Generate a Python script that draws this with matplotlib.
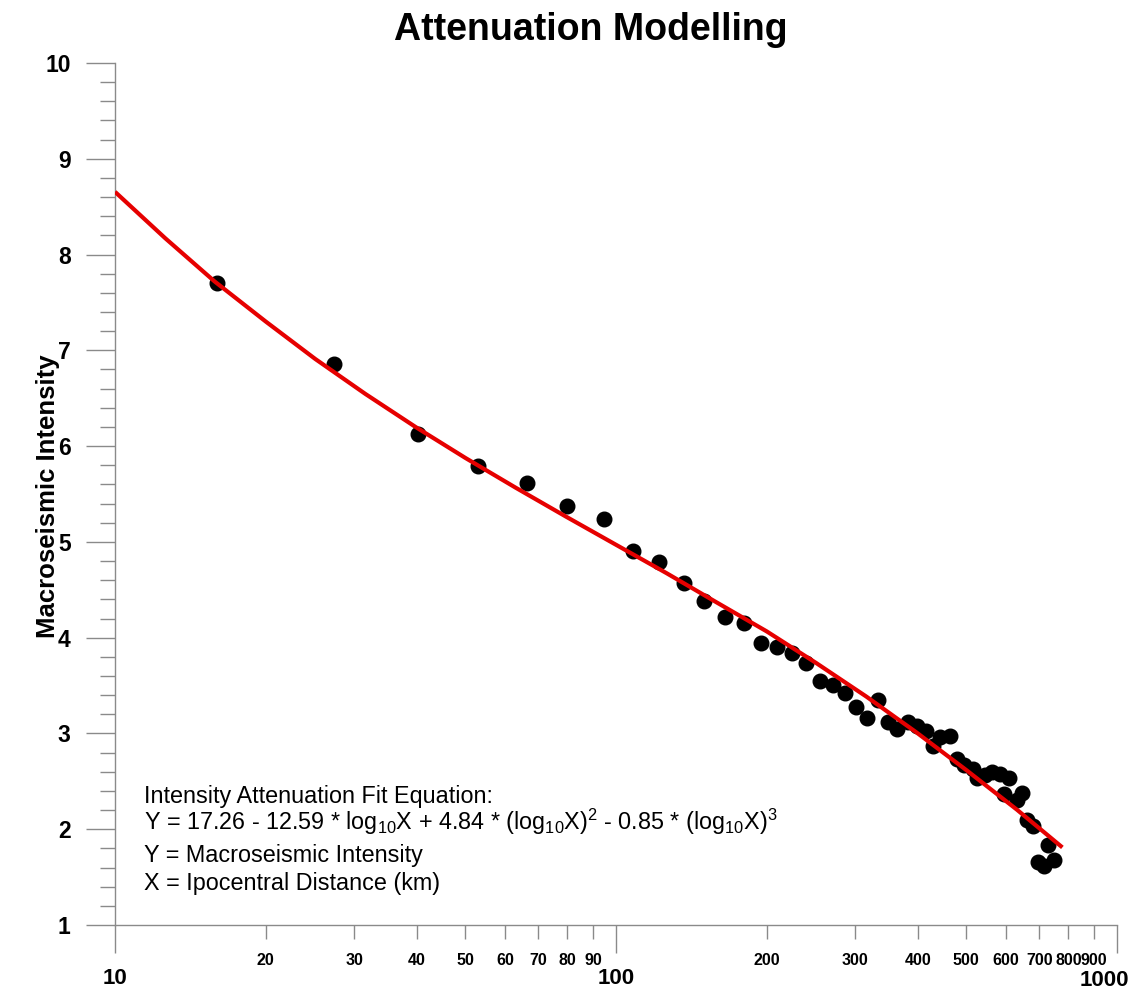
import numpy as np
import matplotlib.pyplot as plt
from matplotlib.ticker import FixedLocator, NullFormatter

plt.rcParams['font.family'] = ['Liberation Sans', 'DejaVu Sans']
plt.rcParams['mathtext.fontset'] = 'custom'
plt.rcParams['mathtext.rm'] = 'Liberation Sans'
plt.rcParams['mathtext.it'] = 'Liberation Sans'
plt.rcParams['mathtext.bf'] = 'Liberation Sans:bold'

# observed intensity vs hypocentral distance (km)
dist = [16.0, 27.4, 40.3, 53.0, 66.3, 79.9, 94.6, 108.3, 122.1, 136.5, 150, 165,
        180, 194.7, 210, 225, 239.5, 255, 271.5, 286.4, 301, 317, 334, 348.5,
        364, 383, 399.5, 415.7, 430, 443, 464, 478.6, 495, 516, 525, 545, 562,
        584, 595, 610, 631, 646, 662, 681, 697, 715, 728, 749]
intens = [7.70, 6.86, 6.13, 5.79, 5.62, 5.37, 5.235, 4.90, 4.785, 4.57, 4.38, 4.22,
          4.15, 3.94, 3.905, 3.836, 3.74, 3.547, 3.505, 3.42, 3.28, 3.164, 3.35, 3.12,
          3.046, 3.116, 3.077, 3.025, 2.87, 2.96, 2.97, 2.73, 2.67, 2.63, 2.54, 2.566, 2.60,
          2.576, 2.367, 2.53, 2.30, 2.375, 2.10, 2.03, 1.66, 1.616, 1.835, 1.68]

# red fit curve
fit_x = [10, 12.6, 15.8, 20, 25.1, 31.6, 39.8, 50.1, 63.1, 79.4, 100, 126, 158,
         200, 251, 316, 398, 501, 631, 778]
fit_y = [8.655, 8.17, 7.72, 7.30, 6.91, 6.545, 6.20, 5.875, 5.565, 5.265, 4.97, 4.675,
         4.375, 4.065, 3.735, 3.385, 3.01, 2.615, 2.205, 1.81]

major_x = [10, 100, 1000]
minor_x = [20, 30, 40, 50, 60, 70, 80, 90, 200, 300, 400, 500, 600, 700, 800, 900]
y_ticks = [1, 2, 3, 4, 5, 6, 7, 8, 9, 10]

eq_lines = ['Intensity Attenuation Fit Equation:',
            'Y = 17.26 - 12.59 * log$_{10}$X + 4.84 * (log$_{10}$X)$^{2}$ - 0.85 * (log$_{10}$X)$^{3}$',
            'Y = Macroseismic Intensity',
            'X = Ipocentral Distance (km)']

W, H = 1148, 992
fig = plt.figure(figsize=(W / 100, H / 100), dpi=100)
ax = fig.add_axes([115 / W, 1 - 925 / H, (1117 - 115) / W, (925 - 63) / H])

ax.plot(dist, intens, 'o', color='black', markersize=10.5, zorder=2)
ax.plot(fit_x, fit_y, color='#e60000', linewidth=3, zorder=3, solid_capstyle='butt')

ax.set_xscale('log')
ax.set_xlim(10, 1000)
ax.set_ylim(1, 10)

axis_col = '#8a8a8a'
for s in ['top', 'right']:
    ax.spines[s].set_visible(False)
for s in ['left', 'bottom']:
    ax.spines[s].set_color(axis_col)
    ax.spines[s].set_linewidth(1.0)

ax.xaxis.set_major_locator(FixedLocator(major_x))
ax.xaxis.set_minor_locator(FixedLocator(minor_x))
ax.set_xticklabels(['10', '100', ''])
ax.set_xticks(minor_x, [str(v) for v in minor_x], minor=True)
ax.tick_params(axis='x', which='major', direction='out', length=20, width=1,
               color=axis_col, pad=11, labelsize=16)
ax.tick_params(axis='x', which='minor', direction='out', length=10, width=1,
               color=axis_col, pad=10, labelsize=11.5)
for lab in ax.get_xticklabels() + ax.get_xticklabels(minor=True):
    lab.set_fontweight('bold')

ax.set_yticks(y_ticks)
ax.yaxis.set_minor_locator(FixedLocator(np.arange(1, 10.01, 0.2)))
ax.yaxis.set_minor_formatter(NullFormatter())
ax.tick_params(axis='y', which='major', direction='out', length=21, width=1,
               color=axis_col, pad=11, labelsize=16.5)
ax.tick_params(axis='y', which='minor', direction='out', length=11, width=1,
               color=axis_col)
for lab in ax.get_yticklabels():
    lab.set_fontweight('bold')

# the 1000 label sits a little left of its tick
ax.annotate('1000', xy=(1000, 0), xycoords=('data', 'axes fraction'),
            xytext=(-13, -56), textcoords='offset pixels',
            ha='center', va='center', fontsize=16, fontweight='bold')

fig.text(591 / W, 1 - 30 / H, 'Attenuation Modelling', ha='center', va='center',
         fontsize=27, fontweight='bold')
fig.text(48 / W, 1 - 496 / H, 'Macroseismic Intensity', ha='center', va='center',
         rotation=90, fontsize=18.5, fontweight='bold')

line_base = [803, 830, 862, 890]
for txt, yy in zip(eq_lines, line_base):
    fig.text(144 / W, 1 - yy / H, txt, ha='left', va='baseline', fontsize=16.8)

fig.savefig('out.png', dpi=100)
